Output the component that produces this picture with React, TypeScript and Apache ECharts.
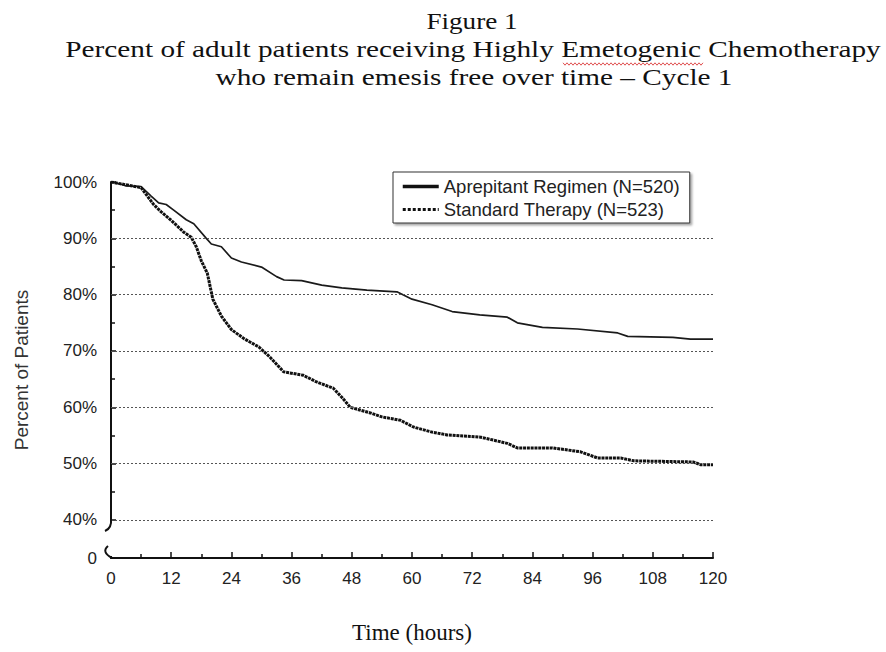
import React, { useEffect, useRef } from "react";
import * as echarts from "echarts";

// Hours and percent of patients emesis-free
const aprepitantHours = [0, 2, 3, 6, 8, 9.5, 11, 12.5, 15, 16.5, 19, 20, 22, 24, 26, 30, 33, 34.5, 38, 42, 46, 51, 57, 60, 64, 68, 73.5, 79, 81, 86, 93, 101, 103, 112, 115.5, 120];
const aprepitantPct = [100, 99.6, 99.3, 99.2, 97.5, 96.3, 96, 95, 93.3, 92.6, 90, 89, 88.5, 86.5, 85.8, 84.9, 83.2, 82.6, 82.5, 81.7, 81.2, 80.8, 80.5, 79.2, 78.2, 77, 76.4, 76, 75, 74.2, 73.9, 73.2, 72.6, 72.4, 72.1, 72.1];

const standardHours = [0, 3, 6, 8.5, 10, 12, 14.5, 16, 17, 18, 19.2, 20.3, 22, 24, 26.5, 29.5, 31.7, 34.4, 38.3, 41, 44.3, 46, 47.7, 51.7, 54, 57.7, 60.3, 64, 67, 73.7, 79, 81, 88, 93.6, 97, 101.6, 104.2, 116, 117.6, 120];
const standardPct = [100, 99.5, 99, 96, 94.7, 93.2, 91.1, 90.2, 88.5, 86, 83.8, 79.2, 76.2, 73.8, 72.2, 70.7, 68.9, 66.3, 65.7, 64.5, 63.4, 61.8, 60, 59, 58.3, 57.7, 56.5, 55.6, 55.1, 54.7, 53.6, 52.8, 52.8, 52.1, 51, 51, 50.5, 50.3, 49.8, 49.8];

const seriesNames = ["Aprepitant Regimen (N=520)", "Standard Therapy (N=523)"];
const gridLineValues = [40, 50, 60, 70, 80, 90];
const yAxisBottom = 33.25; // broken axis: bottom of the axis is labelled "0"
const yLabelValues = [yAxisBottom, 40, 50, 60, 70, 80, 90, 100];

const titleLines = [
  "Figure 1",
  "Percent of adult patients receiving Highly Emetogenic Chemotherapy",
  "who remain emesis free over time \u2013 Cycle 1",
];

const zip = (xs: number[], ys: number[]) => xs.map((x, i) => [x, ys[i]]);

function wavy(x0: number, x1: number, y: number) {
  const pts: number[][] = [];
  let up = true;
  for (let x = x0; x <= x1; x += 2) {
    pts.push([x, up ? y - 1.2 : y + 1.2]);
    up = !up;
  }
  return pts;
}

export default function App() {
  const ref = useRef<HTMLDivElement>(null);
  useEffect(() => {
    if (!ref.current) return;
    const chart = echarts.init(ref.current, null, { renderer: "svg" });
    const serif = "'Liberation Serif', 'Times New Roman', serif";
    const sans = "'Liberation Sans', Arial, sans-serif";
    chart.setOption({
      animation: false,
      backgroundColor: "#fff",
      color: ["#1a1a1a", "#111"],
      grid: { left: 111, right: 173, top: 182, bottom: 94 },
      legend: {
        orient: "vertical",
        left: 393,
        top: 172,
        data: [
          { name: seriesNames[0], lineStyle: { width: 3.5, type: "solid", color: "#111" }, itemStyle: { opacity: 0 } },
          { name: seriesNames[1], lineStyle: { width: 3, type: [3, 2], color: "#111" }, itemStyle: { opacity: 0 } },
        ],
        itemWidth: 36,
        itemHeight: 12,
        itemGap: 4,
        padding: [5, 10, 4, 8],
        borderColor: "#333",
        borderWidth: 1,
        backgroundColor: "#fff",
        shadowColor: "rgba(0,0,0,0.35)",
        shadowOffsetX: 2,
        shadowOffsetY: 2,
        shadowBlur: 2,
        textStyle: { fontFamily: sans, fontSize: 18.5, color: "#222" },
      },
      xAxis: {
        type: "value",
        min: 0,
        max: 120,
        interval: 12,
        name: "Time (hours)",
        nameLocation: "middle",
        nameGap: 63,
        nameTextStyle: { fontFamily: serif, fontSize: 23, color: "#111" },
        axisLine: { show: true, lineStyle: { color: "#111", width: 2 } },
        axisTick: { show: true, inside: true, length: 6, lineStyle: { color: "#111", width: 1.5 } },
        minorTick: { show: true, splitNumber: 2, length: 4, lineStyle: { color: "#111", width: 1.5 } },
        axisLabel: { fontFamily: sans, fontSize: 17, color: "#222", margin: 12 },
        splitLine: { show: false },
      },
      yAxis: {
        type: "value",
        min: yAxisBottom,
        max: 100,
        splitNumber: 7,
        name: "Percent of Patients",
        nameLocation: "middle",
        nameGap: 80,
        nameTextStyle: { fontFamily: sans, fontSize: 19, color: "#333" },
        axisLine: { show: true, lineStyle: { color: "#111", width: 2 } },
        axisTick: { show: true, inside: true, length: 5, lineStyle: { color: "#111", width: 1.5 } },
        minorTick: { show: true, splitNumber: 2, length: 4, lineStyle: { color: "#111", width: 1.5 } },
        axisLabel: {
          customValues: yLabelValues,
          fontFamily: sans,
          fontSize: 17,
          color: "#222",
          margin: 14,
          formatter: (v: number) => (v < 35 ? "0" : Math.round(v) + "%"),
        },
        splitLine: { show: false },
      },
      series: [
        {
          name: seriesNames[0],
          type: "line",
          data: zip(aprepitantHours, aprepitantPct),
          symbol: "none",
          lineStyle: { color: "#1a1a1a", width: 1.7 },
          markLine: {
            silent: true,
            symbol: ["none", "none"],
            label: { show: false },
            data: gridLineValues.map((v) => ({
              yAxis: v,
              lineStyle: { color: "#555", width: 1.2, type: [2, 2] },
            })),
          },
        },
        {
          name: seriesNames[1],
          type: "line",
          data: zip(standardHours, standardPct),
          symbol: "none",
          lineStyle: { color: "#111", width: 3, type: [3, 0.8] },
        },
      ],
      graphic: [
        {
          type: "text",
          x: 472,
          y: 21,
          scaleX: 1.13,
          style: { text: titleLines[0], font: `24px ${serif}`, fill: "#111", textAlign: "center", textVerticalAlign: "middle" },
        },
        {
          type: "text",
          x: 473,
          y: 49,
          scaleX: 1.22,
          style: { text: titleLines[1], font: `24px ${serif}`, fill: "#111", textAlign: "center", textVerticalAlign: "middle" },
        },
        {
          type: "text",
          x: 474,
          y: 77,
          scaleX: 1.22,
          style: { text: titleLines[2], font: `24px ${serif}`, fill: "#111", textAlign: "center", textVerticalAlign: "middle" },
        },
        {
          type: "polyline",
          shape: { points: wavy(563, 703, 64) },
          style: { stroke: "#e05050", lineWidth: 1, fill: "none" },
        },
        {
          type: "rect",
          z: 100,
          shape: { x: 108, y: 521, width: 10, height: 35 },
          style: { fill: "#fff" },
        },
        {
          type: "bezierCurve",
          z: 101,
          shape: { x1: 111, y1: 519, x2: 105, y2: 531, cpx1: 112, cpy1: 528 },
          style: { stroke: "#111", lineWidth: 2, fill: "none" },
        },
        {
          type: "bezierCurve",
          z: 101,
          shape: { x1: 108, y1: 546, x2: 112, y2: 558, cpx1: 101, cpy1: 552 },
          style: { stroke: "#111", lineWidth: 2, fill: "none" },
        },
      ],
    });
    return () => chart.dispose();
  }, []);
  return (
    <div
      ref={ref}
      style={{ position: "fixed", left: 0, top: 0, width: 886, height: 652, background: "#fff" }}
    />
  );
}
